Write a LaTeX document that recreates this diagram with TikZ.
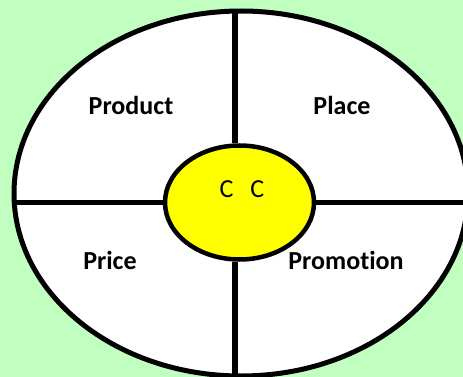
\documentclass[tikz,border=0pt]{standalone}
\usepackage{fontspec}
\setmainfont{Carlito}[Ligatures=NoCommon]
\usepackage{tikz}
\usetikzlibrary{shapes.geometric,positioning,calc}
\definecolor{mintgreen}{RGB}{192,255,192}
\definecolor{coreyellow}{RGB}{255,255,0}
\tikzset{
  ring/.style={draw,ellipse,line width=5pt,inner sep=0pt},
  wall/.style={line width=5.5pt},
  plabel/.style={font=\fontsize{26}{31}\selectfont\bfseries,anchor=base},
  ctext/.style={font=\fontsize{26}{31}\selectfont,anchor=base},
}

\begin{document}
\begin{tikzpicture}[x=1pt,y=-1pt]
  \useasboundingbox (0,0) rectangle (463,377);
  \fill[mintgreen] (0,0) rectangle (463,377);
  % outer ring and the yellow core
  \node[ring,fill=white,minimum width=454pt,minimum height=365pt] (mix) at (241,193.5) {};
  \node[ring,fill=coreyellow,line width=4.5pt,minimum width=149pt,minimum height=114pt] (core) at (239.5,202.5) {};
  \coordinate (top) at (235,11);
  \coordinate (bot) at (235,376);
  \draw[wall] (top) -- (top |- core.north);
  \draw[wall] (core.south -| bot) -- (bot);
  \draw[wall] (core.west) -- (core.west -| mix.west);
  \draw[wall] (core.east) -- (core.east -| mix.east);
  % the four parts
  \node[plabel] (product) at (131,115) {Product};
  \node[plabel] (place) at (342,115) {Place};
  \node[plabel] (price) at (110,269) {Price};
  \node[plabel] (promotion) at (346,269) {Promotion};
  \node[ctext] (cc) at (242,197) {C\hspace{17pt}C};
\end{tikzpicture}
\end{document}
